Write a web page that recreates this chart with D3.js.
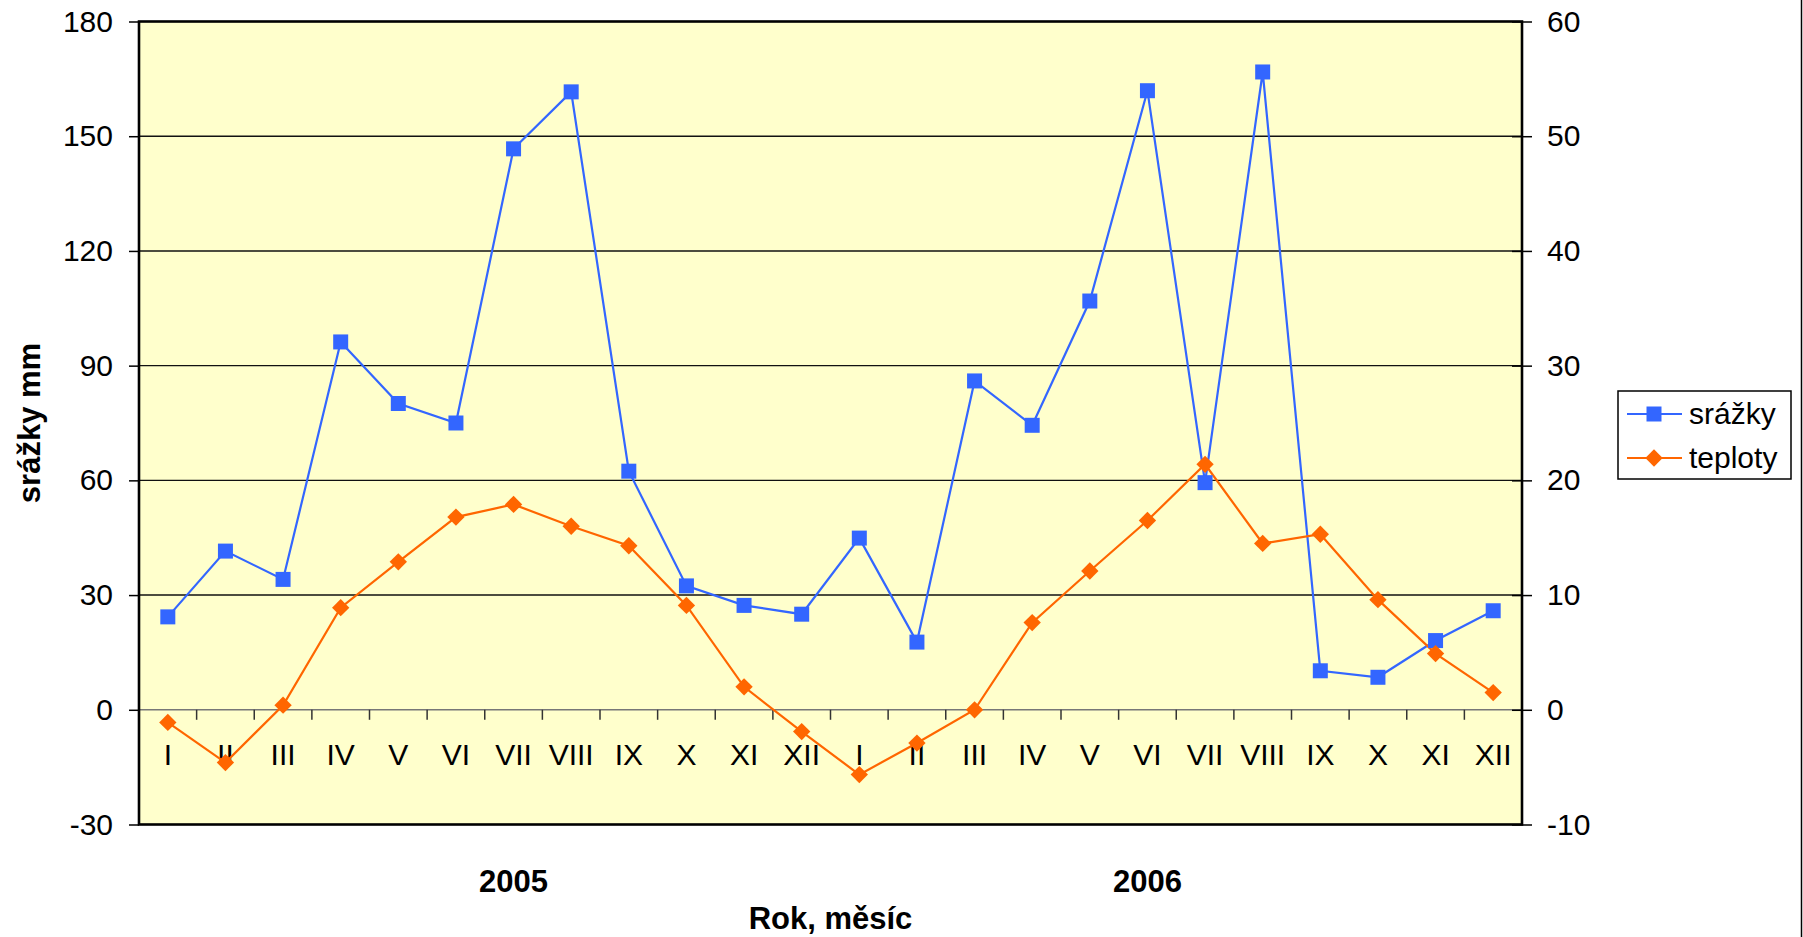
<!DOCTYPE html>
<html>
<head>
<meta charset="utf-8">
<script src="https://cdn.jsdelivr.net/npm/d3@7"></script>
<style>
  body { margin: 0; background: #fff; }
  text { font-family: "Liberation Sans", Arial, sans-serif; }
</style>
</head>
<body>
<script>
// data
const months = ["I","II","III","IV","V","VI","VII","VIII","IX","X","XI","XII"];
const years = ["2005", "2006"];
const srazky = [24.3, 41.5, 34.1, 96.2, 80.1, 75.0, 146.7, 161.6, 62.4, 32.4, 27.3, 25.0,
                44.9, 17.7, 86.0, 74.4, 106.9, 161.9, 59.4, 166.8, 10.2, 8.5, 18.1, 25.9];
const teploty = [-1.1, -4.6, 0.4, 8.9, 12.9, 16.8, 17.9, 16.0, 14.3, 9.1, 2.0, -1.9,
                 -5.65, -2.9, 0.0, 7.6, 12.1, 16.5, 21.4, 14.5, 15.3, 9.6, 4.9, 1.5];
const leftTicks = [-30, 0, 30, 60, 90, 120, 150, 180];
const rightTicks = [-10, 0, 10, 20, 30, 40, 50, 60];
const seriesNames = ["srážky", "teploty"];

// combined category list (year, month)
const cats = [];
years.forEach(function(y) { months.forEach(function(m) { cats.push({year: y, month: m}); }); });

const W = 1803, H = 937;
const margin = {top: 21.5, right: 281, bottom: 112.5, left: 139};
const width = W - margin.left - margin.right,
      height = H - margin.top - margin.bottom;

const svg = d3.select("body").append("svg")
    .attr("width", W)
    .attr("height", H);

// outer chart frame (only the right edge shows)
svg.append("line")
    .attr("x1", W - 1.5).attr("x2", W - 1.5)
    .attr("y1", 0).attr("y2", H)
    .attr("stroke", "#000").attr("stroke-width", 1.5);

const g = svg.append("g")
    .attr("transform", `translate(${margin.left},${margin.top})`);

const x = d3.scaleBand()
    .domain(d3.range(cats.length))
    .range([0, width])
    .padding(0);
const cx = function(i) { return x(i) + x.bandwidth() / 2; };

const yL = d3.scaleLinear().domain([-30, 180]).range([height, 0]);
const yR = d3.scaleLinear().domain([-10, 60]).range([height, 0]);

// plot background
g.append("rect")
    .attr("width", width).attr("height", height)
    .attr("fill", "#FFFFCC");

// gridlines
g.append("g")
    .selectAll("line")
    .data(leftTicks.filter(function(d) { return d !== 0 && d !== -30 && d !== 180; }))
    .enter().append("line")
    .attr("x1", 0).attr("x2", width)
    .attr("y1", function(d) { return yL(d); })
    .attr("y2", function(d) { return yL(d); })
    .attr("stroke", "#111").attr("stroke-width", 1.4);

// category axis at zero
g.append("line")
    .attr("x1", 0).attr("x2", width)
    .attr("y1", yL(0)).attr("y2", yL(0))
    .attr("stroke", "#777").attr("stroke-width", 1.6);

g.append("g")
    .selectAll("line")
    .data(d3.range(cats.length + 1))
    .enter().append("line")
    .attr("x1", function(i) { return i * x.step(); })
    .attr("x2", function(i) { return i * x.step(); })
    .attr("y1", yL(0)).attr("y2", yL(0) + 10)
    .attr("stroke", "#333").attr("stroke-width", 1.5);

g.append("g")
    .selectAll("text")
    .data(cats)
    .enter().append("text")
    .attr("x", function(d, i) { return cx(i); })
    .attr("y", yL(0) + 55)
    .attr("text-anchor", "middle")
    .attr("font-size", 30)
    .attr("fill", "#000")
    .text(function(d) { return d.month; });

// left axis
const axL = g.append("g")
    .call(d3.axisLeft(yL).tickValues(leftTicks).tickSize(10).tickPadding(16)
        .tickFormat(function(d) { return String(d); }));
axL.select(".domain").remove();
axL.selectAll(".tick line").attr("stroke", "#000").attr("stroke-width", 1.5);
axL.selectAll(".tick text").attr("font-size", 30).attr("fill", "#000")
    .attr("font-family", "'Liberation Sans', Arial, sans-serif");

// right axis
const axR = g.append("g")
    .attr("transform", `translate(${width},0)`)
    .call(d3.axisRight(yR).tickValues(rightTicks).tickSize(10).tickPadding(15)
        .tickFormat(function(d) { return String(d); }));
axR.select(".domain").remove();
axR.selectAll(".tick line").attr("stroke", "#000").attr("stroke-width", 1.5).attr("x1", -10);
axR.selectAll(".tick text").attr("font-size", 30).attr("fill", "#000")
    .attr("font-family", "'Liberation Sans', Arial, sans-serif");

// plot border
g.append("rect")
    .attr("width", width).attr("height", height)
    .attr("fill", "none")
    .attr("stroke", "#000").attr("stroke-width", 2.6);

// series lines
const lineL = d3.line()
    .x(function(d, i) { return cx(i); })
    .y(function(d) { return yL(d); });
const lineR = d3.line()
    .x(function(d, i) { return cx(i); })
    .y(function(d) { return yR(d); });

g.append("path")
    .datum(srazky)
    .attr("d", lineL)
    .attr("fill", "none")
    .attr("stroke", "#3366FF")
    .attr("stroke-width", 2.2);

g.append("path")
    .datum(teploty)
    .attr("d", lineR)
    .attr("fill", "none")
    .attr("stroke", "#FF6600")
    .attr("stroke-width", 2.2);

const square = d3.symbol().type(d3.symbolSquare).size(225);
const diamond = d3.symbol().type(d3.symbolSquare).size(150);

g.append("g")
    .selectAll("path")
    .data(srazky)
    .enter().append("path")
    .attr("d", square)
    .attr("transform", function(d, i) { return `translate(${cx(i)},${yL(d)})`; })
    .attr("fill", "#3366FF");

g.append("g")
    .selectAll("path")
    .data(teploty)
    .enter().append("path")
    .attr("d", diamond)
    .attr("transform", function(d, i) { return `translate(${cx(i)},${yR(d)}) rotate(45)`; })
    .attr("fill", "#FF6600");

// year labels under the months
const yearAt = [6, 17];
g.append("g")
    .selectAll("text")
    .data(years)
    .enter().append("text")
    .attr("x", function(d, i) { return cx(yearAt[i]); })
    .attr("y", height + 67)
    .attr("text-anchor", "middle")
    .attr("font-size", 31)
    .attr("font-weight", "bold")
    .text(function(d) { return d; });

// axis titles
g.append("text")
    .attr("x", width / 2)
    .attr("y", height + 104)
    .attr("text-anchor", "middle")
    .attr("font-size", 31)
    .attr("font-weight", "bold")
    .text("Rok, měsíc");

svg.append("text")
    .attr("transform", `translate(40,${margin.top + height / 2}) rotate(-90)`)
    .attr("text-anchor", "middle")
    .attr("font-size", 31)
    .attr("font-weight", "bold")
    .text("srážky mm");

// legend
const legend = svg.append("g").attr("transform", "translate(1618,391)");
legend.append("rect")
    .attr("width", 173).attr("height", 88)
    .attr("fill", "#fff")
    .attr("stroke", "#000").attr("stroke-width", 1.5);

const legColors = ["#3366FF", "#FF6600"];
seriesNames.forEach(function(name, i) {
    const row = legend.append("g").attr("transform", `translate(0,${23 + i * 44})`);
    row.append("line")
        .attr("x1", 9).attr("x2", 64)
        .attr("stroke", legColors[i]).attr("stroke-width", 2.2);
    row.append("path")
        .attr("d", i === 0 ? square : diamond)
        .attr("transform", i === 0 ? "translate(36,0)" : "translate(36,0) rotate(45)")
        .attr("fill", legColors[i]);
    row.append("text")
        .attr("x", 71).attr("y", 10)
        .attr("font-size", 30)
        .text(name);
});
</script>
</body>
</html>
